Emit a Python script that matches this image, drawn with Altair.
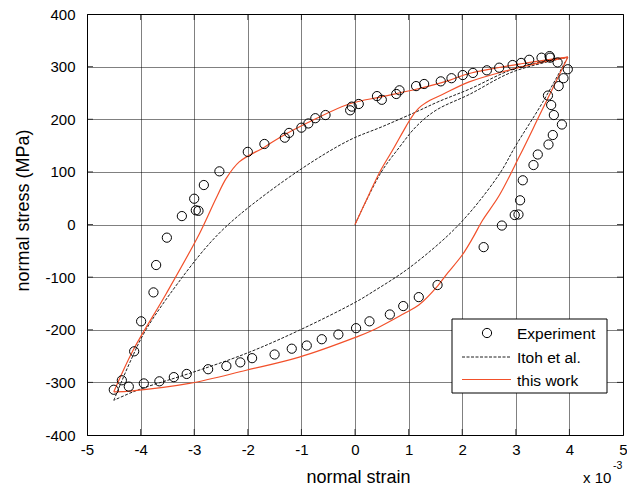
import altair as alt
import pandas as pd

# ---------------- data (strain in 1e-3, stress in MPa) ----------------
exp_x = [-4.50, -4.35, -4.12, -3.99, -3.76, -3.71, -3.51, -3.23, -2.97, -2.92, -3.00, -2.82,
         -2.53, -2.00, -1.69, -1.31, -1.23, -1.00, -0.87, -0.74, -0.55, -0.09, -0.06, 0.07,
         0.41, 0.50, 0.77, 0.83, 1.14, 1.29, 1.60, 1.80, 2.01, 2.20, 2.46, 2.69, 2.94, 3.10,
         3.25, 3.48, 3.63, 3.64,
         3.78, 3.97, 3.89, 3.80, 3.60, 3.66, 3.71, 3.86, 3.69, 3.61, 3.41, 3.33, 3.13, 3.08,
         2.98, 3.05, 2.74, 2.40, 1.54, 1.19, 0.90, 0.65, 0.27, 0.02, -0.31, -0.62, -0.90,
         -1.18, -1.50, -1.92, -2.14, -2.40, -2.74, -3.14, -3.38, -3.65, -3.94, -4.22]
exp_y = [-314, -296, -241, -184, -129, -77, -25, 16, 27, 26, 49, 75,
         101, 138, 153, 165, 174, 184, 192, 202, 208, 217, 224, 229,
         244, 237, 248, 255, 263, 267, 272, 278, 284, 288, 293, 298, 303, 307,
         313, 317, 320, 317,
         308, 295, 278, 263, 245, 227, 208, 190, 170, 152, 133, 113, 84, 46,
         18, 19, -2, -43, -115, -138, -155, -171, -184, -197, -209, -218, -230,
         -236, -247, -254, -262, -269, -275, -284, -290, -298, -302, -308]

# "this work" (red): initial loading, unloading, reloading
red_load_x = [0.00, 0.27, 0.48, 0.70, 0.95, 1.07, 1.20, 1.40, 1.63, 2.13, 2.82, 3.44, 3.97]
red_load_y = [0, 59, 103, 141, 186, 206, 222, 236, 247, 271, 292, 307, 318]
red_unload_x = [3.97, 3.44, 3.07, 2.69, 2.38, 2.20, 2.00, 1.69, 1.54, 1.19, 0.90, 0.33, 0.02,
                -1.04, -2.03, -3.09, -4.15, -4.50]
red_unload_y = [318, 207, 130, 55, 8, -25, -58, -97, -117, -153, -170, -201, -214,
                -252, -277, -302, -316, -318]
red_reload_x = [-4.50, -4.14, -3.52, -2.90, -2.60, -2.40, -2.16, -1.69, -1.41, -0.79, -0.11,
                0.51, 1.14, 1.76, 2.13, 3.13, 3.97]
red_reload_y = [-318, -239, -131, -17, 48, 88, 119, 147, 165, 198, 229,
                243, 257, 274, 287, 306, 318]

# "Itoh et al." (black dashed)
itoh_load_x = [0.00, 0.48, 0.83, 1.14, 1.51, 2.13, 2.94, 3.97]
itoh_load_y = [0, 98, 147, 186, 217, 247, 290, 318]
itoh_unload_x = [3.97, 3.50, 3.00, 2.72, 2.30, 1.94, 1.57, 0.95, 0.33, 0.02, -1.04, -2.03,
                 -3.09, -3.90, -4.14, -4.50]
itoh_unload_y = [318, 232, 150, 100, 42, 0, -36, -87, -128, -147, -201, -245,
                 -283, -309, -318, -334]
itoh_reload_x = [-4.50, -4.20, -3.90, -3.22, -2.66, -2.16, -1.04, -0.11, 0.51, 1.14, 1.57,
                 2.13, 3.00, 3.97]
itoh_reload_y = [-334, -262, -200, -100, -30, 18, 103, 160, 186, 214, 234,
                 257, 297, 318]

x_ticks = [-5, -4, -3, -2, -1, 0, 1, 2, 3, 4, 5]
y_ticks = [-400, -300, -200, -100, 0, 100, 200, 300, 400]

legend_labels = ["Experiment", "Itoh et al.", "this work"]

RED = "#f2502a"
DARK = "#1e1e1e"
FONT = "Liberation Sans"


def branches(parts):
    rows = []
    for name, xs, ys in parts:
        for i, (a, b) in enumerate(zip(xs, ys)):
            rows.append({"strain": a, "stress": b, "branch": name, "order": i})
    return pd.DataFrame(rows)


exp_df = pd.DataFrame({"strain": exp_x, "stress": exp_y})
red_df = branches([("load", red_load_x, red_load_y),
                   ("unload", red_unload_x, red_unload_y),
                   ("reload", red_reload_x, red_reload_y)])
itoh_df = branches([("load", itoh_load_x, itoh_load_y),
                    ("unload", itoh_unload_x, itoh_unload_y),
                    ("reload", itoh_reload_x, itoh_reload_y)])

xt_df = pd.DataFrame([{"strain": v, "stress": s} for v in x_ticks[1:-1] for s in (-400, 400)])
yt_df = pd.DataFrame([{"strain": s, "stress": v} for v in y_ticks[1:-1] for s in (-5, 5)])

xscale = alt.Scale(domain=[-5, 5], nice=False, zero=False)
yscale = alt.Scale(domain=[-400, 400], nice=False, zero=False)

label_expr = "datum.value < 0 ? '-' + abs(datum.value) : '' + datum.value"

xaxis = alt.Axis(values=x_ticks, title="normal strain", labelExpr=label_expr,
                 labelFont=FONT, labelFontSize=15, labelColor="black", labelPadding=7,
                 labelFlush=False, labelOverlap=False,
                 ticks=False, tickSize=0, domain=False,
                 grid=True, gridColor="black", gridDash=[1, 1], gridWidth=1, gridOpacity=1,
                 titleFont=FONT, titleFontSize=18, titleFontWeight="normal", titleColor="black",
                 titleX=271, titleY=47, titleBaseline="alphabetic", titleAlign="center")
yaxis = alt.Axis(values=y_ticks, title="normal stress (MPa)", labelExpr=label_expr,
                 labelFont=FONT, labelFontSize=15, labelColor="black", labelPadding=12,
                 labelFlush=False, labelOverlap=False,
                 ticks=False, tickSize=0, domain=False,
                 grid=True, gridColor="black", gridDash=[1, 1], gridWidth=1, gridOpacity=1,
                 titleFont=FONT, titleFontSize=18, titleFontWeight="normal", titleColor="black",
                 titleX=-59, titleY=196, titleAngle=-90, titleBaseline="alphabetic",
                 titleAlign="center")

X = alt.X("strain:Q", scale=xscale, axis=xaxis)
Y = alt.Y("stress:Q", scale=yscale, axis=yaxis)

itoh_line = alt.Chart(itoh_df).mark_line(
    color=DARK, strokeWidth=1, strokeDash=[3, 1.5], clip=True, interpolate="catmull-rom"
).encode(x=X, y=Y, detail="branch:N", order="order:Q")

red_line = alt.Chart(red_df).mark_line(
    color=RED, strokeWidth=1.2, clip=True, interpolate="catmull-rom"
).encode(x=X, y=Y, detail="branch:N", order="order:Q")

exp_pts = alt.Chart(exp_df).mark_point(
    shape="circle", filled=False, color="black", size=85, strokeWidth=1, opacity=1
).encode(x=X, y=Y)

xticks_in = alt.Chart(xt_df).mark_tick(
    orient="vertical", size=12, thickness=1, color="black", clip=True
).encode(x=X, y=Y)
yticks_in = alt.Chart(yt_df).mark_tick(
    orient="horizontal", size=12, thickness=1, color="black", clip=True
).encode(x=X, y=Y)

one = pd.DataFrame({"k": [0]})
leg_box = alt.Chart(one).mark_rect(fill="white", stroke="black", strokeWidth=1).encode(
    x=alt.value(365), x2=alt.value(520), y=alt.value(305), y2=alt.value(379))
leg_circle = alt.Chart(one).mark_point(
    shape="circle", filled=False, color="black", size=85, strokeWidth=1, opacity=1
).encode(x=alt.value(400), y=alt.value(319))
leg_dash = alt.Chart(one).mark_rule(color=DARK, strokeWidth=1, strokeDash=[3, 1.5]).encode(
    x=alt.value(375), x2=alt.value(424), y=alt.value(343))
leg_red = alt.Chart(one).mark_rule(color=RED, strokeWidth=1.2).encode(
    x=alt.value(375), x2=alt.value(424), y=alt.value(365.5))


def leg_text(txt, ypos):
    return alt.Chart(one).mark_text(
        align="left", baseline="alphabetic", font=FONT, fontSize=15.5, color="black"
    ).encode(x=alt.value(430), y=alt.value(ypos), text=alt.value(txt))


leg_t1 = leg_text(legend_labels[0], 325)
leg_t2 = leg_text(legend_labels[1], 349)
leg_t3 = leg_text(legend_labels[2], 372)

mult = alt.Chart(one).mark_text(
    align="left", baseline="alphabetic", font=FONT, fontSize=15, color="black"
).encode(x=alt.value(496), y=alt.value(469), text=alt.value("x 10"))
mult_exp = alt.Chart(one).mark_text(
    align="left", baseline="alphabetic", font=FONT, fontSize=10.5, color="black"
).encode(x=alt.value(526), y=alt.value(455), text=alt.value("-3"))

chart = alt.layer(
    itoh_line, red_line, exp_pts, xticks_in, yticks_in,
    leg_box, leg_circle, leg_dash, leg_red, leg_t1, leg_t2, leg_t3,
    mult, mult_exp
).properties(
    width=536, height=421,
    autosize=alt.AutoSizeParams(type="none"),
    padding={"left": 87, "top": 14, "right": 4, "bottom": 51},
    background="white"
).configure_view(
    stroke="black", strokeWidth=1
)

chart.save("out.html", embed_options={"renderer": "svg", "actions": False})
